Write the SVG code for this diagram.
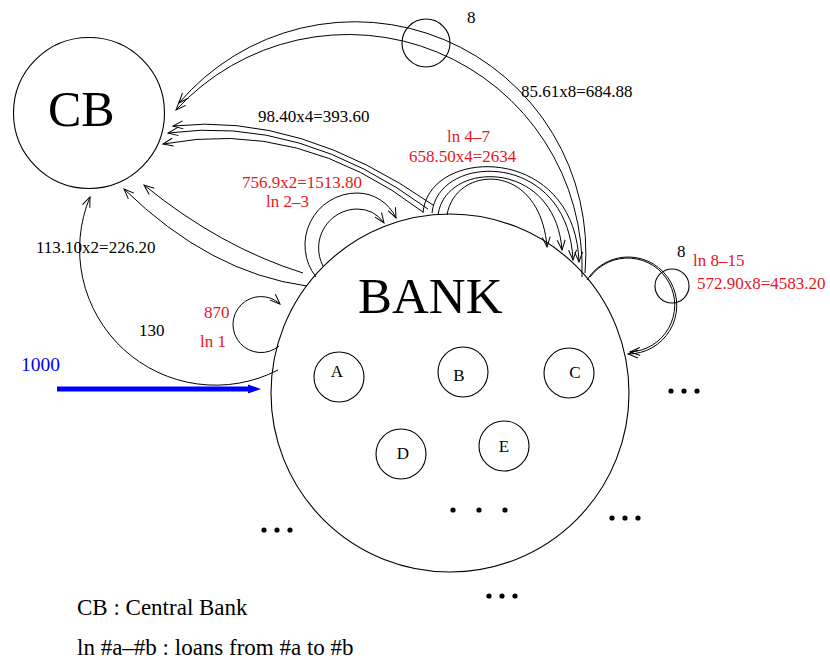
<svg xmlns="http://www.w3.org/2000/svg" width="830" height="660" viewBox="0 0 830 660">
  <style>
    .node { fill: none; stroke: #000; stroke-width: 1.1; }
    .edge { fill: none; stroke: #000; stroke-width: 1; marker-end: url(#head); }
    .txt { font-family: "Liberation Serif", "Times New Roman", serif; font-size: 17px; fill: #000; }
    .red { fill: #e8161c; }
    .big { font-size: 50px; }
    .legend { font-size: 23px; }
    .dot { fill: #000; }
  </style>
  <defs>
    <marker id="head" markerUnits="userSpaceOnUse" viewBox="-12 -6 14 12" markerWidth="14" markerHeight="12" refX="0" refY="0" orient="auto" overflow="visible">
      <path d="M-10,-4 L0,0 L-10,4" fill="none" stroke="#000" stroke-width="1"/>
    </marker>
  </defs>

  <!-- nodes -->
  <g id="cb">
    <circle class="node" cx="89" cy="113" r="75.5"/>
    <text class="txt big" x="48" y="126">CB</text>
  </g>
  <g id="bank">
    <circle class="node" cx="450" cy="393" r="179"/>
    <text class="txt big" x="358" y="313" style="font-size:51px">BANK</text>
  </g>
  <g id="a">
    <circle class="node" cx="339" cy="377" r="25"/>
    <text class="txt" x="337" y="377" text-anchor="middle">A</text>
  </g>
  <g id="b">
    <circle class="node" cx="463" cy="372" r="25"/>
    <text class="txt" x="459" y="381" text-anchor="middle">B</text>
  </g>
  <g id="c">
    <circle class="node" cx="569" cy="373" r="25"/>
    <text class="txt" x="575" y="378" text-anchor="middle">C</text>
  </g>
  <g id="d">
    <circle class="node" cx="401" cy="454" r="25"/>
    <text class="txt" x="403" y="459" text-anchor="middle">D</text>
  </g>
  <g id="e">
    <circle class="node" cx="504" cy="446" r="25"/>
    <text class="txt" x="504" y="452" text-anchor="middle">E</text>
  </g>
  <g id="group-top">
    <circle class="node" cx="426" cy="43" r="24"/>
    <text class="txt" x="467" y="23">8</text>
  </g>
  <g id="group-right">
    <circle class="node" cx="672" cy="286" r="17"/>
    <text class="txt" x="677" y="257">8</text>
  </g>

  <!-- connectors -->
  <g id="connectors">
    <!-- 85.61x8 : bank to CB, over the top -->
    <path class="edge" d="M585,273 A231,231 0 0 0 179,103"/>
    <path class="edge" d="M582,277 A234,234 0 0 0 176,110"/>
    <!-- 98.40x4 : bank to CB -->
    <path class="edge" d="M433,205 Q300,112 173,126"/>
    <path class="edge" d="M428,209 Q300,115 168,133"/>
    <path class="edge" d="M423,212 Q300,118 163,144"/>
    <!-- ln 4-7 : loops on the bank -->
    <path class="edge" d="M423,213 C428,146 575,143 579,262"/>
    <path class="edge" d="M432,213 C438,152 568,150 573,260"/>
    <path class="edge" d="M438,215 C445,160 555,158 562,250"/>
    <path class="edge" d="M447,215 C455,165 540,160 547,247"/>
    <!-- ln 2-3 -->
    <path class="edge" d="M316,277 A52,52 0 0 1 357,193 A43,43 0 0 1 396,218"/>
    <path class="edge" d="M323,266 A39,39 0 0 1 357,209 A33,33 0 0 1 384,223"/>
    <!-- ln 8-15 -->
    <path class="edge" d="M590,277 A47,47 0 1 1 630,352"/>
    <path class="edge" d="M587,280 A48.5,48.5 0 1 1 628,354"/>
    <!-- 113.10x2 : bank to CB -->
    <path class="edge" d="M303,273 Q220,247 144,185"/>
    <path class="edge" d="M307,286 Q210,273 124,189"/>
    <!-- 130 : bank to CB, round the left -->
    <path class="edge" d="M278,370 A136,136 0 0 1 90,197"/>
    <!-- ln 1 -->
    <path class="edge" d="M279,346 A28,28 0 1 1 280,304"/>
    <!-- 1000 : deposit into the bank -->
    <line x1="57" y1="389" x2="250" y2="389" stroke="#0000ff" stroke-width="5"/>
    <polygon points="248,384.5 261,389 248,393.5" fill="#0000ff"/>
  </g>

  <!-- labels -->
  <g id="labels">
    <text class="txt" x="521" y="97">85.61x8=684.88</text>
    <text class="txt" x="258" y="122">98.40x4=393.60</text>
    <text class="txt red" x="447" y="142">ln 4–7</text>
    <text class="txt red" x="409" y="162">658.50x4=2634</text>
    <text class="txt red" x="242" y="188">756.9x2=1513.80</text>
    <text class="txt red" x="266" y="207">ln 2–3</text>
    <text class="txt red" x="693" y="266">ln 8–15</text>
    <text class="txt red" x="697" y="289">572.90x8=4583.20</text>
    <text class="txt" x="36" y="253">113.10x2=226.20</text>
    <text class="txt red" x="204" y="318">870</text>
    <text class="txt" x="139" y="336">130</text>
    <text class="txt red" x="200" y="347">ln 1</text>
    <text class="txt" x="21" y="371" style="font-size:19.5px;fill:#0000ff">1000</text>
  </g>

  <!-- ellipses -->
  <g id="more">
    <circle class="dot" cx="671" cy="391" r="2.6"/><circle class="dot" cx="684" cy="391" r="2.6"/><circle class="dot" cx="697" cy="391" r="2.6"/>
    <circle class="dot" cx="453" cy="510" r="2.6"/><circle class="dot" cx="479" cy="510" r="2.6"/><circle class="dot" cx="505" cy="510" r="2.6"/>
    <circle class="dot" cx="612" cy="518" r="2.6"/><circle class="dot" cx="625" cy="518" r="2.6"/><circle class="dot" cx="638" cy="518" r="2.6"/>
    <circle class="dot" cx="264" cy="530" r="2.6"/><circle class="dot" cx="277" cy="530" r="2.6"/><circle class="dot" cx="290" cy="530" r="2.6"/>
    <circle class="dot" cx="489" cy="596" r="2.6"/><circle class="dot" cx="502" cy="596" r="2.6"/><circle class="dot" cx="515" cy="596" r="2.6"/>
  </g>

  <!-- legend -->
  <g id="legend">
    <text class="txt legend" x="77" y="615">CB : Central Bank</text>
    <text class="txt legend" x="77" y="655">ln #a–#b : loans from #a to #b</text>
  </g>
</svg>
